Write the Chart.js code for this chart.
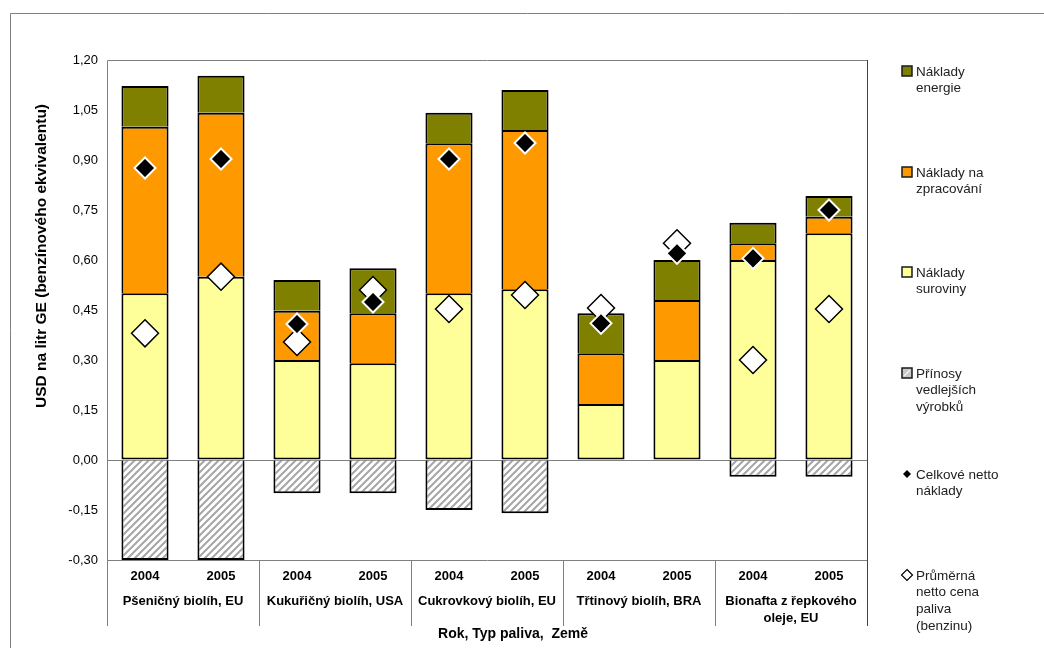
<!DOCTYPE html>
<html>
<head>
<meta charset="utf-8">
<script src="https://cdn.jsdelivr.net/npm/chart.js@4/dist/chart.umd.min.js"></script>
<style>
  html, body { margin: 0; padding: 0; background: #fff; }
  #wrap { position: relative; width: 1044px; height: 648px; }
</style>
</head>
<body>
<div id="wrap"><canvas id="c" width="1044" height="648"></canvas></div>
<script>
// Years for each bar and the fuel type / country groups (two bars per group)
const years = ['2004', '2005', '2004', '2005', '2004', '2005', '2004', '2005', '2004', '2005'];
const groups = [
  ['Pšeničný biolíh, EU'],
  ['Kukuřičný biolíh, USA'],
  ['Cukrovkový biolíh, EU'],
  ['Třtinový biolíh, BRA'],
  ['Bionafta z řepkového', 'oleje, EU']
];

// Cost components, USD per litre gasoline equivalent
const rawMaterialCost = [0.50, 0.55, 0.30, 0.29, 0.50, 0.512, 0.168, 0.30, 0.60, 0.68];
const processingCost  = [0.50, 0.492, 0.148, 0.15, 0.45, 0.478, 0.152, 0.18, 0.05, 0.05];
const energyCost      = [0.122, 0.111, 0.092, 0.135, 0.092, 0.12, 0.12, 0.12, 0.062, 0.062];
const byproductCredit = [-0.30, -0.30, -0.10, -0.10, -0.15, -0.16, 0, 0, -0.05, -0.05];
const totalNetCost    = [0.876, 0.903, 0.408, 0.474, 0.903, 0.951, 0.41, 0.62, 0.605, 0.75];
const avgFuelPrice    = [0.38, 0.55, 0.354, 0.51, 0.453, 0.495, 0.456, 0.65, 0.30, 0.453];

// Y axis ticks
const yTicks = [-0.30, -0.15, 0.00, 0.15, 0.30, 0.45, 0.60, 0.75, 0.90, 1.05, 1.20];

// Legend entries
const legendItems = [
  { lines: ['Náklady', 'energie'], kind: 'box', color: '#808000' },
  { lines: ['Náklady na', 'zpracování'], kind: 'box', color: '#FF9900' },
  { lines: ['Náklady', 'suroviny'], kind: 'box', color: '#FFFF99' },
  { lines: ['Přínosy', 'vedlejších', 'výrobků'], kind: 'hatch' },
  { lines: ['Celkové netto', 'náklady'], kind: 'black' },
  { lines: ['Průměrná', 'netto cena', 'paliva', '(benzinu)'], kind: 'white' }
];

const canvas = document.getElementById('c');
const ctx = canvas.getContext('2d');
const FONT = '"Liberation Sans", Arial, sans-serif';

function makeHatch(bg, stripe) {
  const s = 7;
  const pc = document.createElement('canvas');
  pc.width = s; pc.height = s;
  const p = pc.getContext('2d');
  p.fillStyle = bg;
  p.fillRect(0, 0, s, s);
  p.strokeStyle = stripe;
  p.lineWidth = 2;
  p.beginPath();
  p.moveTo(0, s); p.lineTo(s, 0);
  p.moveTo(-s / 2, s / 2); p.lineTo(s / 2, -s / 2);
  p.moveTo(s / 2, s * 1.5); p.lineTo(s * 1.5, s / 2);
  p.stroke();
  return ctx.createPattern(pc, 'repeat');
}
const hatch = makeHatch('#ffffff', '#a6a6a6');

// Frame, axis captions, category groups and legend
const decorations = {
  id: 'decorations',
  beforeDatasetsDraw(chart) {
    const a = chart.chartArea;
    const c = chart.ctx;
    c.save();
    c.lineWidth = 1;
    c.strokeStyle = '#808080';
    c.beginPath();
    c.moveTo(a.left + 0.5, a.bottom + 0.5);
    c.lineTo(a.left + 0.5, a.top + 0.5);
    c.lineTo(a.right + 0.5, a.top + 0.5);
    c.moveTo(a.left + 0.5, a.bottom + 0.5);
    c.lineTo(a.right + 0.5, a.bottom + 0.5);
    c.stroke();
    c.strokeStyle = '#404040';
    c.beginPath();
    c.moveTo(a.right + 0.5, a.top);
    c.lineTo(a.right + 0.5, a.bottom + 66);
    c.stroke();
    c.restore();
  },
  afterDraw(chart) {
    const a = chart.chartArea;
    const c = chart.ctx;
    const x = chart.scales.x;
    c.save();

    // outer frame
    c.strokeStyle = '#808080';
    c.lineWidth = 1;
    c.beginPath();
    c.moveTo(10.5, 648);
    c.lineTo(10.5, 13.5);
    c.lineTo(1044, 13.5);
    c.stroke();

    // y axis title
    c.save();
    c.translate(42, 256);
    c.rotate(-Math.PI / 2);
    c.font = 'bold 15.5px ' + FONT;
    c.fillStyle = '#000';
    c.textAlign = 'center';
    c.textBaseline = 'middle';
    c.fillText('USD na litr GE (benzínového ekvivalentu)', 0, 0);
    c.restore();

    // year labels
    c.font = 'bold 13px ' + FONT;
    c.fillStyle = '#000';
    c.textAlign = 'center';
    c.textBaseline = 'middle';
    years.forEach((yr, i) => c.fillText(yr, x.getPixelForValue(i), a.bottom + 16));

    // group separators and labels
    c.strokeStyle = '#808080';
    c.beginPath();
    for (let g = 0; g < groups.length; g++) {
      const px = g === 0 ? a.left
        : (x.getPixelForValue(2 * g - 1) + x.getPixelForValue(2 * g)) / 2;
      c.moveTo(Math.round(px) + 0.5, a.bottom);
      c.lineTo(Math.round(px) + 0.5, a.bottom + 66);
    }
    c.stroke();
    groups.forEach((lines, g) => {
      const cx = (x.getPixelForValue(2 * g) + x.getPixelForValue(2 * g + 1)) / 2;
      lines.forEach((t, k) => c.fillText(t, cx, a.bottom + 41 + k * 17));
    });

    // x axis title
    c.font = 'bold 14px ' + FONT;
    c.fillText('Rok, Typ paliva,  Země', 513, a.bottom + 74);

    // legend
    const tops = [71, 172, 272, 373, 474, 575];
    c.font = '13.5px ' + FONT;
    c.textAlign = 'left';
    legendItems.forEach((it, i) => {
      const y0 = tops[i];
      if (it.kind === 'box' || it.kind === 'hatch') {
        c.fillStyle = it.kind === 'hatch' ? '#c8c8c8' : it.color;
        c.fillRect(902, y0 - 5, 10, 10);
        if (it.kind === 'hatch') {
          c.strokeStyle = '#f0f0f0';
          c.lineWidth = 1.5;
          c.beginPath(); c.moveTo(904, y0 + 3); c.lineTo(910, y0 - 3); c.stroke();
        }
        c.strokeStyle = '#1a1a1a';
        c.lineWidth = 1.5;
        c.strokeRect(902, y0 - 5, 10, 10);
      } else {
        const r = it.kind === 'black' ? 4 : 5.5;
        c.beginPath();
        c.moveTo(907, y0 - r); c.lineTo(907 + r, y0); c.lineTo(907, y0 + r); c.lineTo(907 - r, y0);
        c.closePath();
        c.fillStyle = it.kind === 'black' ? '#000' : '#fff';
        c.fill();
        if (it.kind === 'white') { c.strokeStyle = '#000'; c.lineWidth = 1.2; c.stroke(); }
      }
      c.fillStyle = '#222';
      it.lines.forEach((t, k) => c.fillText(t, 916, y0 + 1 + k * 16.7));
    });
    c.restore();
  }
};

// Bottom segment outlines all sides; upper and negative segments skip the edge they share
const barStyle = { borderColor: '#000', borderWidth: 2, stack: 'costs', order: 3 };

new Chart(ctx, {
  type: 'bar',
  data: {
    labels: years,
    datasets: [
      Object.assign({ label: 'Náklady suroviny', data: rawMaterialCost, backgroundColor: '#FFFF99', borderSkipped: false }, barStyle),
      Object.assign({ label: 'Náklady na zpracování', data: processingCost, backgroundColor: '#FF9900', borderSkipped: 'start' }, barStyle),
      Object.assign({ label: 'Náklady energie', data: energyCost, backgroundColor: '#808000', borderSkipped: 'start' }, barStyle),
      Object.assign({ label: 'Přínosy vedlejších výrobků', data: byproductCredit, backgroundColor: hatch, borderSkipped: 'start' }, barStyle),
      {
        type: 'line', label: 'Průměrná netto cena paliva (benzinu)', data: avgFuelPrice,
        showLine: false, stack: 'price', order: 2,
        pointStyle: 'rectRot', pointRadius: 13.5, pointHoverRadius: 13.5,
        pointBackgroundColor: '#fff', pointBorderColor: '#000', pointBorderWidth: 1.5
      },
      {
        type: 'line', label: 'Celkové netto náklady', data: totalNetCost,
        showLine: false, stack: 'net', order: 1,
        pointStyle: 'rectRot', pointRadius: 10.5, pointHoverRadius: 10.5,
        pointBackgroundColor: '#000', pointBorderColor: '#fff', pointBorderWidth: 2
      }
    ]
  },
  options: {
    responsive: false,
    animation: false,
    devicePixelRatio: 1,
    layout: { padding: { top: 60, right: 177, bottom: 88, left: 0 } },
    datasets: { bar: { barPercentage: 0.62, categoryPercentage: 1 } },
    plugins: { legend: { display: false }, tooltip: { enabled: false } },
    scales: {
      x: { stacked: true, display: false },
      y: {
        stacked: true,
        min: -0.30, max: 1.20,
        afterBuildTicks(scale) { scale.ticks = yTicks.map(v => ({ value: v })); },
        afterFit(scale) { scale.width = 107; },
        border: { display: false },
        grid: {
          drawTicks: false,
          color: c => (Math.abs(c.tick.value) < 1e-9 ? '#808080' : 'rgba(0,0,0,0)'),
          lineWidth: 1
        },
        ticks: {
          padding: 9,
          color: '#000',
          font: { family: FONT, size: 13 },
          callback: v => v.toFixed(2).replace('.', ',')
        }
      }
    }
  },
  plugins: [decorations]
});
</script>
</body>
</html>
